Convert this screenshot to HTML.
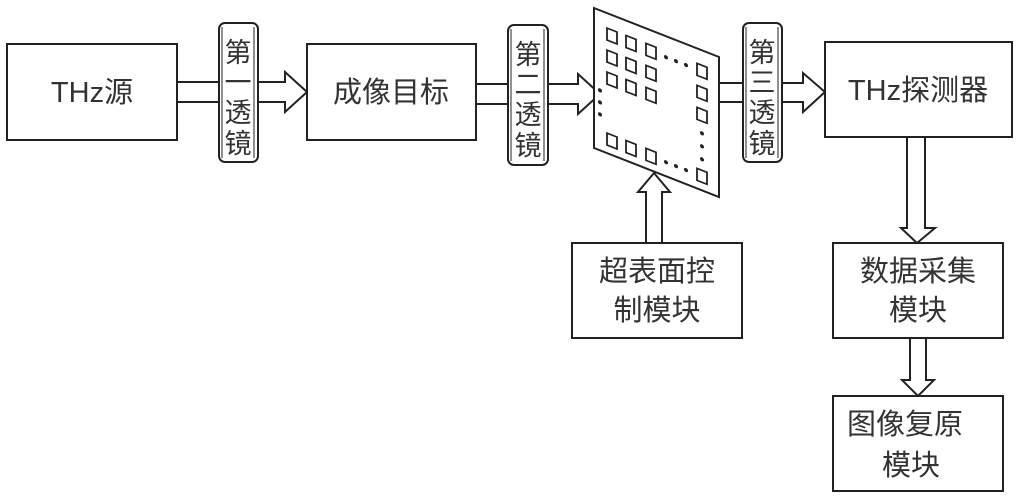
<!DOCTYPE html>
<html><head><meta charset="utf-8"><style>
html,body{margin:0;padding:0;background:#fff;}
svg{display:block;}
text{font-family:"Liberation Sans","Noto Sans CJK SC",sans-serif;fill:#333;}
</style></head><body>
<svg width="1020" height="500" viewBox="0 0 1020 500" xmlns="http://www.w3.org/2000/svg">
<g stroke="#222" stroke-width="2" fill="#fff">
<polygon points="177,82 285,82 285,72 307,92 285,112 285,102 177,102"/>
<polygon points="476,84 578,84 578,74 600,94 578,114 578,104 476,104"/>
<polygon points="719,83 803,83 803,73 825,92 803,112 803,102 719,102"/>
<polygon points="646,243 646,192 638,192 654,173 670,192 662,192 662,243"/>
<polygon points="907,137 907,228 901,228 917,243 935,228 925,228 925,137"/>
<polygon points="910,338 910,380 902,380 918,396 934,380 926,380 926,338"/>
<rect x="7" y="44" width="170" height="96"/>
<rect x="307" y="44" width="169" height="96"/>
<rect x="825" y="42" width="187" height="95"/>
<rect x="572" y="243" width="170" height="95"/>
<rect x="833" y="243" width="170" height="95"/>
<rect x="833" y="396" width="170" height="95"/>
<rect x="219" y="23" width="39" height="139" rx="6"/>
<rect x="508" y="25" width="40" height="140" rx="6"/>
<rect x="743" y="23" width="39" height="139" rx="6"/>
</g>
<g stroke="#222" stroke-width="1" fill="none">
<path d="M222,27 V158 M254,27 V158"/>
<path d="M511,29 V161 M544,29 V161"/>
<path d="M746,27 V158 M778,27 V158"/>
</g>
<polygon points="594,8 719,57 719,197 594,148" fill="#fff" stroke="#222" stroke-width="2"/>
<g transform="translate(594,8) skewY(21.4)" stroke="#222" stroke-width="1.8" fill="#fff">
<rect x="13" y="15" width="10" height="12"/><rect x="32" y="15" width="10" height="12"/><rect x="52" y="15" width="10" height="12"/>
<rect x="13" y="37" width="10" height="12"/><rect x="32" y="37" width="10" height="12"/><rect x="52" y="37" width="10" height="12"/>
<rect x="13" y="59" width="10" height="12"/><rect x="32" y="59" width="10" height="12"/><rect x="52" y="59" width="10" height="12"/>
<rect x="103" y="15" width="10" height="12"/><rect x="103" y="37" width="10" height="12"/><rect x="103" y="59" width="10" height="12"/>
<rect x="103" y="120" width="10" height="12"/>
<rect x="13" y="120" width="10" height="12"/><rect x="32" y="120" width="10" height="12"/><rect x="52" y="120" width="10" height="12"/>
<g fill="#222" stroke="none">
<circle cx="72" cy="21" r="2"/><circle cx="82" cy="21" r="2"/><circle cx="92" cy="21" r="2"/>
<circle cx="72" cy="126" r="2"/><circle cx="82" cy="126" r="2"/><circle cx="92" cy="126" r="2"/>
<circle cx="6" cy="80" r="2"/><circle cx="6" cy="92" r="2"/><circle cx="6" cy="104" r="2"/>
<circle cx="108" cy="83" r="2"/><circle cx="108" cy="96" r="2"/><circle cx="108" cy="109" r="2"/>
</g>
</g>
<g font-size="29" text-anchor="middle">
<text x="92" y="102">THz源</text>
<text x="391" y="102">成像目标</text>
<text x="918" y="100">THz探测器</text>
<text x="657" y="281">超表面控</text>
<text x="657" y="320">制模块</text>
<text x="918" y="281">数据采集</text>
<text x="918" y="320">模块</text>
<text x="905" y="434">图像复原</text>
<text x="911" y="475">模块</text>
</g>
<g font-size="27" text-anchor="middle">
<text x="238" y="62">第</text><text x="238" y="92">一</text><text x="238" y="122">透</text><text x="238" y="153">镜</text>
<text x="528" y="64">第</text><text x="528" y="94">二</text><text x="528" y="124">透</text><text x="528" y="155">镜</text>
<text x="762" y="62">第</text><text x="762" y="92">三</text><text x="762" y="122">透</text><text x="762" y="153">镜</text>
</g>
</svg>
</body></html>
